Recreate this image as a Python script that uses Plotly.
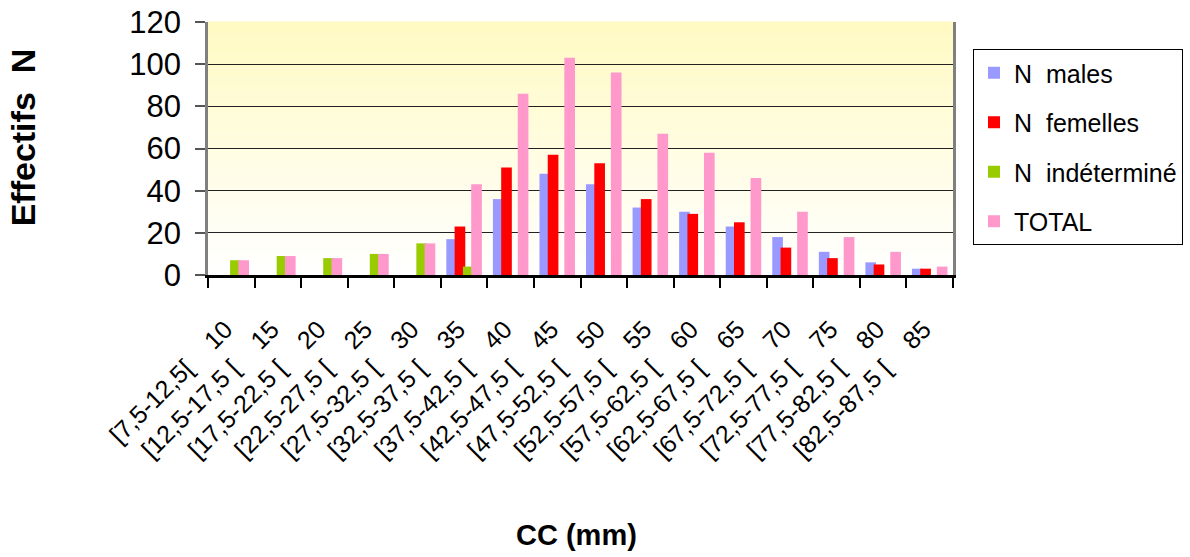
import plotly.graph_objects as go

centres = ["10", "15", "20", "25", "30", "35", "40", "45", "50", "55", "60", "65", "70", "75", "80", "85"]
intervals = ["[7,5-12,5[", "[12,5-17,5 [", "[17,5-22,5 [", "[22,5-27,5 [", "[27,5-32,5 [", "[32,5-37,5 [",
             "[37,5-42,5 [", "[42,5-47,5 [", "[47,5-52,5 [", "[52,5-57,5 [", "[57,5-62,5 [", "[62,5-67,5 [",
             "[67,5-72,5 [", "[72,5-77,5 [", "[77,5-82,5 [", "[82,5-87,5 ["]
n_males = [0, 0, 0, 0, 0, 17, 36, 48, 43, 32, 30, 23, 18, 11, 6, 3]
n_femelles = [0, 0, 0, 0, 0, 23, 51, 57, 53, 36, 29, 25, 13, 8, 5, 3]
n_indet = [7, 9, 8, 10, 15, 4, 0, 0, 0, 0, 0, 0, 0, 0, 0, 0]
total = [7, 9, 8, 10, 15, 43, 86, 103, 96, 67, 58, 46, 30, 18, 11, 4]

series = [
    ("N\u00a0 males", n_males, "#9999FF"),
    ("N\u00a0 femelles", n_femelles, "#FF0000"),
    ("N\u00a0 indéterminé", n_indet, "#99CC00"),
    ("TOTAL", total, "#FF99CC"),
]

FONT = "Liberation Sans, Arial, sans-serif"

# Excel-like slightly overlapping clustered bars
BAR_W = 0.229
STEP = 0.178
first_off = -(3 * STEP + BAR_W) / 2

fig = go.Figure()
for i, (name, vals, col) in enumerate(series):
    fig.add_trace(go.Bar(
        x=centres, y=vals, name=name, legendgroup=f"g{i}",
        width=BAR_W, offset=first_off + i * STEP,
        marker=dict(color=col, line=dict(width=0)),
    ))

# gradient background (pale yellow at top -> white at bottom)
N = 60
top = (255, 250, 195)
for k in range(N):
    f = k / (N - 1)
    r = round(255 + (top[0] - 255) * f)
    g = round(255 + (top[1] - 255) * f)
    b = round(255 + (top[2] - 255) * f)
    fig.add_shape(type="rect", xref="x domain", yref="y domain",
                  x0=0, x1=1, y0=k / N, y1=(k + 1) / N + 0.002,
                  fillcolor=f"rgb({r},{g},{b})", line=dict(width=0), layer="below")

GAP = "\u00a0" * 4
ticktext = [f"{iv}{GAP}{c}" for c, iv in zip(centres, intervals)]

fig.update_layout(
    width=1190, height=557,
    margin=dict(l=208, r=237, t=22, b=282),
    paper_bgcolor="white", plot_bgcolor="white",
    barmode="overlay",
    font=dict(family=FONT, color="black"),
    showlegend=True,
    legend=dict(
        xref="container", yref="container",
        x=973 / 1190, y=1 - 49 / 557, xanchor="left", yanchor="top",
        bordercolor="black", borderwidth=1, bgcolor="white",
        font=dict(size=25, family=FONT), tracegroupgap=14,
        itemwidth=30,
    ),
    xaxis=dict(
        type="category", tickmode="array", tickvals=centres, ticktext=ticktext,
        tickangle=-45, tickfont=dict(size=25, family=FONT), ticklabelstandoff=27,
        ticklabelshift=-6,
        tickson="boundaries", ticks="outside", ticklen=10, tickcolor="black", tickwidth=1.5,
        showline=True, linecolor="black", linewidth=2.5,
        showgrid=False, zeroline=False, automargin=False,
    ),
    yaxis=dict(
        range=[0, 120], tickmode="linear", tick0=0, dtick=20,
        tickfont=dict(size=31, family=FONT), ticklabelstandoff=8,
        ticks="outside", ticklen=10, tickcolor="#555555", tickwidth=1.5,
        showline=True, linecolor="#808080", linewidth=2.5, mirror=True,
        showgrid=True, gridcolor="#222222", gridwidth=1,
        zeroline=False, automargin=False,
    ),
    annotations=[
        dict(text="<b>Effectifs\u00a0\u00a0N</b>", xref="paper", yref="paper",
             x=-0.248, y=0.545, xanchor="center", yanchor="middle", textangle=-90,
             showarrow=False, font=dict(size=34, family=FONT)),
        dict(text="<b>CC (mm)</b>", xref="paper", yref="paper",
             x=0.494, y=-1.028, xanchor="center", yanchor="middle",
             showarrow=False, font=dict(size=29, family=FONT)),
    ],
)

fig.write_html("out.html")
